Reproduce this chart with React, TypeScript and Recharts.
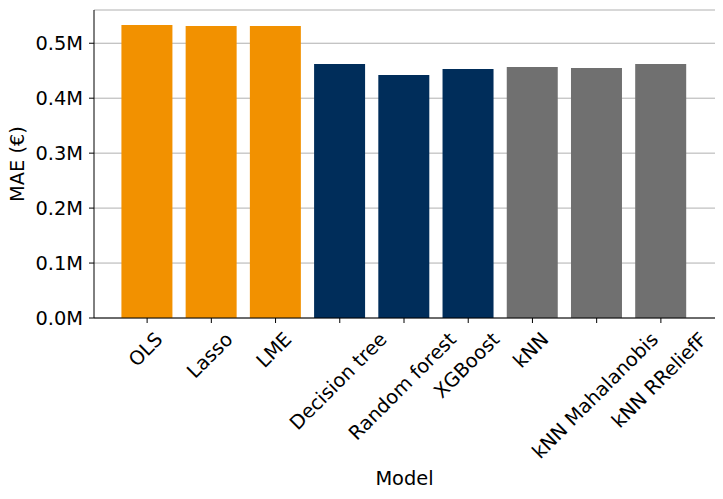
import React from 'react';
import { BarChart, Bar, XAxis, YAxis, CartesianGrid, Cell } from 'recharts';

const models = ['OLS', 'Lasso', 'LME', 'Decision tree', 'Random forest', 'XGBoost', 'kNN', 'kNN Mahalanobis', 'kNN RReliefF'];
const maeMillions = [0.5333, 0.5315, 0.5315, 0.4624, 0.4424, 0.4533, 0.4569, 0.4551, 0.4624];
const modelGroups = ['linear', 'linear', 'linear', 'tree', 'tree', 'tree', 'knn', 'knn', 'knn'];
const groupColors: Record<string, string> = { linear: '#F29100', tree: '#002D5A', knn: '#707070' };
const yTicks = [0, 0.1, 0.2, 0.3, 0.4, 0.5];

const data = models.map((m, i) => ({ model: m, mae: maeMillions[i], group: modelGroups[i] }));

const FONT = 'DejaVu Sans, sans-serif';
const FS = 19.4;

let ctx: CanvasRenderingContext2D | null = null;
function measure(t: string): number {
  if (!ctx) {
    const c = document.createElement('canvas');
    ctx = c.getContext('2d');
  }
  if (!ctx) return t.length * FS * 0.6;
  ctx.font = `${FS}px "DejaVu Sans"`;
  return ctx.measureText(t).width;
}

const RotTick = (props: any) => {
  const { x, y, payload } = props;
  const t = String(payload.value);
  const w = measure(t);
  const h = FS * 0.73;
  const H = (w + h) * Math.SQRT1_2;
  const top = y + 8;
  const cx = x - 1.5;
  const cy = top + H / 2;
  return (
    <text
      x={cx}
      y={cy}
      transform={`rotate(-45, ${cx}, ${cy})`}
      textAnchor="middle"
      dominantBaseline="central"
      fontFamily={FONT}
      fontSize={FS}
      fill="#000"
    >
      {t}
    </text>
  );
};

export default function App() {
  return (
    <div style={{ position: 'absolute', left: 0, top: 0, width: 723, height: 499, background: '#fff' }}>
      <BarChart
        width={723}
        height={499}
        data={data}
        margin={{ top: 10, right: 8, bottom: 0, left: 0 }}
        barCategoryGap="10%"
      >
        <CartesianGrid horizontal vertical={false} stroke="#b0b0b0" strokeWidth={1} />
        <XAxis
          dataKey="model"
          height={181}
          padding={{ left: 21, right: 22 }}
          interval={0}
          tickSize={5}
          tickMargin={0}
          stroke="#000"
          axisLine={{ stroke: '#000' }}
          tickLine={{ stroke: '#000' }}
          tick={<RotTick />}
          label={{
            content: (p: any) => {
              const vb = p.viewBox || { x: 94, y: 318, width: 621, height: 181 };
              return (
                <text
                  x={vb.x + vb.width / 2}
                  y={478}
                  textAnchor="middle"
                  dominantBaseline="central"
                  fontFamily={FONT}
                  fontSize={FS}
                  fill="#000"
                >
                  Model
                </text>
              );
            },
          }}
        />
        <XAxis xAxisId="top" orientation="top" dataKey="model" height={0} tick={false} tickLine={false} axisLine={{ stroke: '#000' }} />
        <YAxis
          width={94}
          domain={[0, 0.5605]}
          ticks={yTicks}
          tickSize={5}
          tickMargin={6}
          allowDataOverflow
          axisLine={{ stroke: '#000' }}
          tickLine={{ stroke: '#000' }}
          tick={{ fontFamily: FONT, fontSize: FS, fill: '#000' }}
          tickFormatter={(v: number) => `${v.toFixed(1)}M`}
          label={{
            content: () => (
              <text
                x={17}
                y={164}
                transform="rotate(-90, 17, 164)"
                textAnchor="middle"
                dominantBaseline="central"
                fontFamily={FONT}
                fontSize={FS}
                fill="#000"
              >
                MAE (€)
              </text>
            ),
          }}
        />
        <YAxis yAxisId="right" orientation="right" width={0} domain={[0, 1]} tick={false} tickLine={false} axisLine={{ stroke: '#000' }} />
        <Bar dataKey="mae" isAnimationActive={false}>
          {data.map((d, i) => (
            <Cell key={i} fill={groupColors[d.group]} />
          ))}
        </Bar>
      </BarChart>
    </div>
  );
}
